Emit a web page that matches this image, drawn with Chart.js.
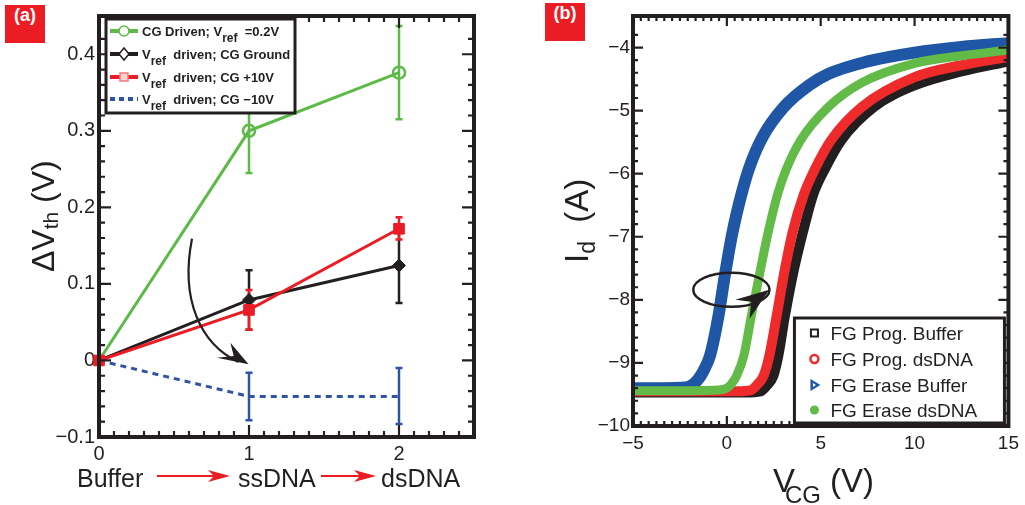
<!DOCTYPE html>
<html>
<head>
<meta charset="utf-8">
<script src="https://cdn.jsdelivr.net/npm/chart.js@4.4.1/dist/chart.umd.min.js"></script>
<style>
html, body { margin: 0; padding: 0; background: #fff; }
#wrap { position: relative; width: 1025px; height: 505px; overflow: hidden; }
#boxA { position: absolute; left: 0; top: 0; width: 512px; height: 505px; }
#boxB { position: absolute; left: 512px; top: 0; width: 513px; height: 505px; }
.tag { position: absolute; width: 40px; height: 38px; line-height: 38px; background: #ec1c24; color: #fff;
       font: bold 18px 'Liberation Sans', Arial, sans-serif; text-align: center; }
</style>
</head>
<body>
<div id="wrap">
  <div id="boxA"><canvas id="chartA" width="512" height="505"></canvas></div>
  <div id="boxB"><canvas id="chartB" width="513" height="505"></canvas></div>
  <div class="tag" style="left:5px; top:5px;">(a)</div>
  <div class="tag" style="left:545px; top:3px;">(b)</div>
</div>
<script>
// ---- panel (a): threshold shift per step ----
var stages = [0, 1, 2];
var stageNames = ['Buffer', 'ssDNA', 'dsDNA'];
var cgDriven = [0, 0.300, 0.376];
var cgDrivenLow = [0, 0.245, 0.315];
var cgDrivenHigh = [0, 0.355, 0.437];
var cgGround = [0, 0.079, 0.124];
var cgGroundLow = [0, 0.040, 0.075];
var cgGroundHigh = [0, 0.118, 0.172];
var cgPlus10 = [0, 0.066, 0.172];
var cgPlus10Low = [0, 0.040, 0.158];
var cgPlus10High = [0, 0.092, 0.187];
var cgMinus10 = [0, -0.047, -0.047];
var cgMinus10Low = [0, -0.078, -0.083];
var cgMinus10High = [0, -0.016, -0.010];

// ---- panel (b): log10 Id vs Vcg ----
var vProgBuffer = [-5, -2, 1, 1.8, 2.1, 2.47, 2.74, 3.09, 3.53, 4.05, 4.6, 5.2, 6.1, 7.85, 10, 12.5, 15];
var idProgBuffer = [-9.47, -9.47, -9.47, -9.45, -9.37, -9.21, -8.89, -8.26, -7.58, -6.93, -6.33, -5.94, -5.47, -4.94, -4.6, -4.38, -4.22];
var vProgDs = [-5, -2, 0.5, 1.3, 1.6, 1.95, 2.26, 2.65, 3.05, 3.5, 4.1, 4.67, 5.55, 7.2, 10, 12.5, 15];
var idProgDs = [-9.45, -9.45, -9.45, -9.43, -9.35, -9.21, -8.89, -8.26, -7.58, -6.93, -6.33, -5.94, -5.47, -4.94, -4.47, -4.28, -4.15];
var vEraseBuffer = [-5, -3.5, -2.2, -1.8, -1.5, -1.2, -0.9, -0.45, -0.1, 0.3, 0.8, 1.2, 1.9, 3.05, 4.37, 5.4, 7.5, 10, 12.5, 15];
var idEraseBuffer = [-9.40, -9.40, -9.39, -9.34, -9.25, -9.1, -8.89, -8.26, -7.6, -6.93, -6.3, -5.9, -5.42, -4.94, -4.6, -4.42, -4.22, -4.08, -3.99, -3.93];
var vEraseDs = [-5, -2, -0.5, 0, 0.25, 0.51, 0.9, 1.3, 1.75, 2.2, 2.7, 3.15, 3.93, 5.42, 7.17, 10, 12.5, 15];
var idEraseDs = [-9.44, -9.44, -9.43, -9.40, -9.33, -9.21, -8.89, -8.26, -7.58, -6.93, -6.33, -5.94, -5.47, -4.94, -4.56, -4.25, -4.13, -4.04];

var INK = '#231f20';
var GREEN = '#5db948';
var RED = '#ec1c24';
var BLUE_A = '#3153a3';
var BLUE_B = '#1f56a5';
var GREEN_B = '#62bb47';
var RED_B = '#ee2a2b';
var FONT = "'Liberation Sans', Arial, Helvetica, sans-serif";

function toXY(xs, ys) {
    return xs.map(function(x, i) { return { x: x, y: ys[i] }; });
}
function isMajor(v, step) {
    return Math.abs(v / step - Math.round(v / step)) < 1e-6;
}
function fmt(v, digits) {
    if (Math.abs(v) < 1e-9) return '0';
    return (v < 0 ? '\u2212' : '') + Math.abs(v).toFixed(digits);
}
function textRun(ctx, x, y, pieces) {
    pieces.forEach(function(p) {
        ctx.font = p.font;
        ctx.fillText(p.text, x, y + (p.dy || 0));
        x += ctx.measureText(p.text).width;
    });
    return x;
}

function frameAndTicks(chart, xStep, yStep, majLen, minLen) {
    var ctx = chart.ctx, a = chart.chartArea, xs = chart.scales.x, ys = chart.scales.y;
    ctx.save();
    ctx.strokeStyle = INK;
    ctx.lineWidth = 2.2;
    ctx.beginPath();
    xs.ticks.forEach(function(t) {
        var px = xs.getPixelForValue(t.value);
        var len = isMajor(t.value, xStep) ? majLen : minLen;
        ctx.moveTo(px, a.bottom); ctx.lineTo(px, a.bottom - len);
        ctx.moveTo(px, a.top); ctx.lineTo(px, a.top + len);
    });
    ys.ticks.forEach(function(t) {
        var py = ys.getPixelForValue(t.value);
        var len = isMajor(t.value, yStep) ? majLen : minLen;
        ctx.moveTo(a.left, py); ctx.lineTo(a.left + len, py);
        ctx.moveTo(a.right, py); ctx.lineTo(a.right - len, py);
    });
    ctx.stroke();
    ctx.lineWidth = 4;
    ctx.strokeRect(a.left, a.top, a.right - a.left, a.bottom - a.top);
    ctx.restore();
}

function arrowHead(ctx, pts, color) {
    ctx.fillStyle = color;
    ctx.beginPath();
    ctx.moveTo(pts[0][0], pts[0][1]);
    for (var i = 1; i < pts.length; i++) ctx.lineTo(pts[i][0], pts[i][1]);
    ctx.closePath();
    ctx.fill();
}

var panelA = {
    id: 'panelA',
    beforeDatasetsDraw: function(chart) {
        var ctx = chart.ctx, xs = chart.scales.x, ys = chart.scales.y;
        var bars = [[cgDrivenLow, cgDrivenHigh, GREEN], [cgGroundLow, cgGroundHigh, INK],
                    [cgPlus10Low, cgPlus10High, RED], [cgMinus10Low, cgMinus10High, BLUE_A]];
        ctx.save();
        ctx.lineWidth = 2.5;
        bars.forEach(function(b) {
            ctx.strokeStyle = b[2];
            for (var i = 0; i < stages.length; i++) {
                if (b[0][i] === b[1][i]) continue;
                var px = xs.getPixelForValue(stages[i]);
                var y1 = ys.getPixelForValue(b[0][i]);
                var y2 = ys.getPixelForValue(b[1][i]);
                ctx.beginPath();
                ctx.moveTo(px, y1); ctx.lineTo(px, y2);
                ctx.moveTo(px - 3.5, y1); ctx.lineTo(px + 3.5, y1);
                ctx.moveTo(px - 3.5, y2); ctx.lineTo(px + 3.5, y2);
                ctx.stroke();
            }
        });
        ctx.restore();
    },
    afterDraw: function(chart) {
        var ctx = chart.ctx, a = chart.chartArea, xs = chart.scales.x, ys = chart.scales.y;
        frameAndTicks(chart, 1, 0.1, 12, 6);
        function P(x, y) { return [xs.getPixelForValue(x), ys.getPixelForValue(y)]; }

        // curved arrow
        ctx.save();
        var p0 = P(0.62, 0.159), c1 = P(0.54, 0.08), c2 = P(0.676, 0.021), p3 = P(0.93, -0.002);
        ctx.strokeStyle = INK;
        ctx.lineWidth = 2.2;
        ctx.beginPath();
        ctx.moveTo(p0[0], p0[1]);
        ctx.bezierCurveTo(c1[0], c1[1], c2[0], c2[1], p3[0], p3[1]);
        ctx.stroke();
        arrowHead(ctx, [P(0.997, -0.005), P(0.787, 0.0036), P(0.898, 0.0057), P(0.876, 0.023)], INK);
        ctx.restore();

        // legend
        ctx.save();
        var L = a.left + 7, T = a.top + 3, W = 189, H = 94;
        ctx.fillStyle = '#fff';
        ctx.fillRect(L, T, W, H);
        ctx.strokeStyle = INK;
        ctx.lineWidth = 3;
        ctx.strokeRect(L, T, W, H);
        var rows = [
            { color: GREEN, dash: [], marker: 'circle', pre: 'CG Driven; V', post: '  =0.2V' },
            { color: INK, dash: [], marker: 'diamond', pre: 'V', post: '  driven; CG Ground' },
            { color: RED, dash: [], marker: 'square', pre: 'V', post: '  driven; CG +10V' },
            { color: BLUE_A, dash: [5, 4], marker: null, pre: 'V', post: '  driven; CG \u221210V' }
        ];
        var rowY = [12, 35, 58, 80];
        rows.forEach(function(r, i) {
            var y = T + rowY[i];
            ctx.setLineDash(r.dash);
            ctx.strokeStyle = r.color;
            ctx.lineWidth = 4;
            ctx.beginPath(); ctx.moveTo(L + 4, y); ctx.lineTo(L + 32, y); ctx.stroke();
            ctx.setLineDash([]);
            ctx.lineWidth = 1.5;
            ctx.fillStyle = '#fff';
            var mx = L + 18;
            if (r.marker === 'circle') {
                ctx.beginPath(); ctx.arc(mx, y, 5, 0, Math.PI * 2); ctx.fill(); ctx.stroke();
            } else if (r.marker === 'diamond') {
                ctx.beginPath(); ctx.moveTo(mx, y - 6); ctx.lineTo(mx + 5, y); ctx.lineTo(mx, y + 6); ctx.lineTo(mx - 5, y); ctx.closePath(); ctx.fill(); ctx.stroke();
            } else if (r.marker === 'square') {
                ctx.strokeStyle = '#f07a7c';
                ctx.fillStyle = '#fbd3d3';
                ctx.fillRect(mx - 4, y - 4, 8, 8); ctx.strokeRect(mx - 4, y - 4, 8, 8);
            }
            ctx.fillStyle = INK;
            textRun(ctx, L + 36, y + 5, [
                { text: r.pre, font: 'bold 13px ' + FONT },
                { text: 'ref', font: 'bold 12px ' + FONT, dy: 6 },
                { text: r.post, font: 'bold 13px ' + FONT }
            ]);
        });
        ctx.restore();

        // y axis title
        ctx.save();
        ctx.fillStyle = INK;
        ctx.translate(54, 272);
        ctx.rotate(-Math.PI / 2);
        textRun(ctx, 0, 0, [
            { text: '\u0394V', font: '32px ' + FONT },
            { text: 'th', font: '21px ' + FONT, dy: 4 },
            { text: ' (V)', font: '32px ' + FONT }
        ]);
        ctx.restore();

        // x axis: Buffer -> ssDNA -> dsDNA
        ctx.save();
        ctx.fillStyle = INK;
        ctx.font = '25px ' + FONT;
        var offs = [-22, -11, -18];
        stageNames.forEach(function(name, i) {
            ctx.fillText(name, xs.getPixelForValue(stages[i]) + offs[i], a.bottom + 50);
        });
        var ay = a.bottom + 39;
        var spans = [[xs.getPixelForValue(stages[0]) + 58, xs.getPixelForValue(stages[1]) - 19],
                     [xs.getPixelForValue(stages[1]) + 72, xs.getPixelForValue(stages[2]) - 23]];
        ctx.strokeStyle = RED;
        ctx.lineWidth = 2;
        spans.forEach(function(s) {
            ctx.beginPath(); ctx.moveTo(s[0], ay); ctx.lineTo(s[1] - 14, ay); ctx.stroke();
            arrowHead(ctx, [[s[1], ay], [s[1] - 22, ay - 6], [s[1] - 16, ay], [s[1] - 22, ay + 6]], RED);
        });
        ctx.restore();
    }
};

var panelB = {
    id: 'panelB',
    afterDraw: function(chart) {
        var ctx = chart.ctx, a = chart.chartArea, xs = chart.scales.x, ys = chart.scales.y;
        frameAndTicks(chart, 5, 1, 10, 5);
        function P(x, y) { return [xs.getPixelForValue(x), ys.getPixelForValue(y)]; }

        // loop arrow
        ctx.save();
        var c = P(0.24, -7.84);
        var rx = xs.getPixelForValue(0.24 + 2.03) - c[0];
        var ry = ys.getPixelForValue(-7.84 - 0.27) - c[1];
        ctx.strokeStyle = INK;
        ctx.lineWidth = 2.5;
        ctx.beginPath();
        ctx.ellipse(c[0], c[1], rx, ry, 0, 0, Math.PI * 2);
        ctx.stroke();
        arrowHead(ctx, [P(2.26, -7.84), P(0.45, -8.0), P(1.3, -8.03), P(1.21, -8.3)], INK);
        ctx.restore();

        // legend
        ctx.save();
        var R = a.right - 4, B = a.bottom - 3, W = 210, H = 105;
        var L = R - W, T = B - H;
        ctx.fillStyle = '#fff';
        ctx.fillRect(L, T, W, H);
        ctx.strokeStyle = INK;
        ctx.lineWidth = 3;
        ctx.strokeRect(L, T, W, H);
        var names = ['FG Prog. Buffer', 'FG Prog. dsDNA', 'FG Erase Buffer', 'FG Erase dsDNA'];
        var rowY = [15, 41, 67, 92];
        var mx = L + 20;
        names.forEach(function(n, i) {
            var y = T + rowY[i];
            if (i === 0) {
                ctx.strokeStyle = INK; ctx.lineWidth = 2;
                ctx.strokeRect(mx - 3.5, y - 3.5, 7, 7);
            } else if (i === 1) {
                ctx.strokeStyle = RED_B; ctx.lineWidth = 2.5;
                ctx.beginPath(); ctx.arc(mx, y, 4, 0, Math.PI * 2); ctx.stroke();
            } else if (i === 2) {
                ctx.fillStyle = BLUE_B;
                ctx.beginPath(); ctx.moveTo(mx + 6, y); ctx.lineTo(mx - 4, y - 6); ctx.lineTo(mx - 4, y + 6); ctx.closePath(); ctx.fill();
                ctx.fillStyle = '#fff';
                ctx.beginPath(); ctx.moveTo(mx + 1.5, y); ctx.lineTo(mx - 1.5, y - 2); ctx.lineTo(mx - 1.5, y + 2); ctx.closePath(); ctx.fill();
            } else {
                ctx.fillStyle = GREEN_B;
                ctx.beginPath(); ctx.arc(mx, y, 4.5, 0, Math.PI * 2); ctx.fill();
            }
            ctx.fillStyle = INK;
            ctx.font = '19px ' + FONT;
            ctx.fillText(n, L + 36, y + 7);
        });
        ctx.restore();

        // axis titles
        ctx.save();
        ctx.fillStyle = INK;
        ctx.translate(76, 263);
        ctx.rotate(-Math.PI / 2);
        textRun(ctx, 0, 0, [
            { text: 'I', font: '33px ' + FONT },
            { text: 'd', font: '23px ' + FONT, dy: 7 },
            { text: '  (A)', font: '33px ' + FONT }
        ]);
        ctx.restore();
        ctx.save();
        ctx.fillStyle = INK;
        ctx.font = '33px ' + FONT;
        ctx.fillText('V', a.left + 140, a.bottom + 66);
        ctx.font = '24px ' + FONT;
        ctx.fillText('CG', a.left + 152, a.bottom + 77);
        ctx.font = '33px ' + FONT;
        ctx.fillText('(V)', a.left + 197, a.bottom + 66);
        ctx.restore();
    }
};

function axisOpts(min, max, step, major, digits, size, pad, fitFn) {
    return {
        type: 'linear', min: min, max: max,
        grid: { display: false, drawTicks: false },
        border: { display: false },
        afterFit: fitFn,
        ticks: {
            stepSize: step, maxTicksLimit: 200, autoSkip: false, maxRotation: 0, padding: pad,
            color: INK, font: { family: FONT, size: size },
            callback: function(v) { return isMajor(v, major) ? fmt(v, digits) : ''; }
        }
    };
}

var chartA = new Chart(document.getElementById('chartA'), {
    type: 'line',
    data: {
        datasets: [{
            label: 'CG Driven; Vref =0.2V',
            data: toXY(stages, cgDriven),
            borderColor: GREEN, borderWidth: 3, tension: 0, clip: false,
            pointStyle: 'circle', pointRadius: [0, 6, 6], pointBorderWidth: 2.5,
            pointBorderColor: GREEN, pointBackgroundColor: 'rgba(255,255,255,0)',
            order: 2
        }, {
            label: 'Vref driven; CG Ground',
            data: toXY(stages, cgGround),
            borderColor: INK, borderWidth: 3, tension: 0, clip: false,
            pointStyle: 'rectRot', pointRadius: [0, 6.5, 6.5], pointBorderWidth: 1,
            pointBorderColor: INK, pointBackgroundColor: INK,
            order: 1
        }, {
            label: 'Vref driven; CG +10V',
            data: toXY(stages, cgPlus10),
            borderColor: RED, borderWidth: 3, tension: 0, clip: false,
            pointStyle: 'rect', pointRadius: 7.5, pointBorderWidth: 1,
            pointBorderColor: RED, pointBackgroundColor: RED,
            order: 0
        }, {
            label: 'Vref driven; CG -10V',
            data: toXY(stages, cgMinus10),
            borderColor: BLUE_A, borderWidth: 3, borderDash: [6, 5], tension: 0, clip: false,
            pointRadius: 0,
            order: 3
        }]
    },
    options: {
        responsive: false, animation: false,
        layout: { padding: { left: 0, top: 16, right: 38, bottom: 0 } },
        plugins: { legend: { display: false }, tooltip: { enabled: false } },
        scales: {
            x: axisOpts(0, 2.5, 0.1, 1, 0, 20, 5, function(s) { s.height = 68; }),
            y: axisOpts(-0.1, 0.45, 0.02, 0.1, 1, 20, 4, function(s) { s.width = 99; })
        }
    },
    plugins: [panelA]
});

var chartB = new Chart(document.getElementById('chartB'), {
    type: 'line',
    data: {
        datasets: [{
            label: 'FG Erase dsDNA', data: toXY(vEraseDs, idEraseDs),
            borderColor: GREEN_B, borderWidth: 9, order: 0
        }, {
            label: 'FG Erase Buffer', data: toXY(vEraseBuffer, idEraseBuffer),
            borderColor: BLUE_B, borderWidth: 12, order: 1
        }, {
            label: 'FG Prog. dsDNA', data: toXY(vProgDs, idProgDs),
            borderColor: RED_B, borderWidth: 10, order: 2
        }, {
            label: 'FG Prog. Buffer', data: toXY(vProgBuffer, idProgBuffer),
            borderColor: INK, borderWidth: 10, order: 3
        }]
    },
    options: {
        responsive: false, animation: false,
        layout: { padding: { left: 0, top: 16, right: 12, bottom: 0 } },
        elements: { point: { radius: 0 }, line: { cubicInterpolationMode: 'monotone', fill: false, borderJoinStyle: 'round' } },
        plugins: { legend: { display: false }, tooltip: { enabled: false } },
        scales: {
            x: axisOpts(-5, 15, 5 / 12, 5, 0, 19, 6, function(s) { s.height = 79; }),
            y: axisOpts(-10, -3.5, 0.2, 1, 0, 19, 3, function(s) { s.width = 121; })
        }
    },
    plugins: [panelB]
});
</script>
</body>
</html>
